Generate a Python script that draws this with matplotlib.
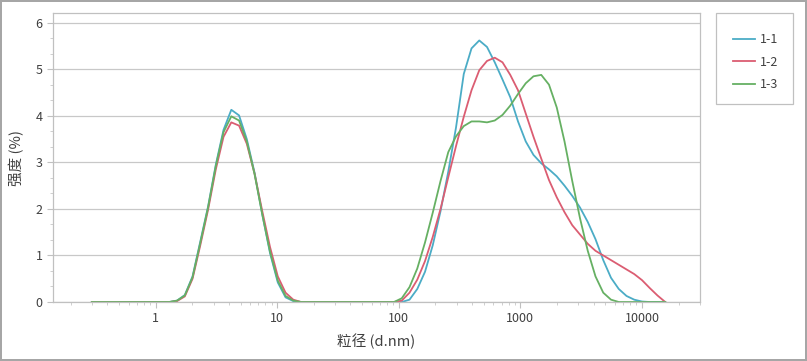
import numpy as np
import matplotlib
matplotlib.use("Agg")
import matplotlib.pyplot as plt
from matplotlib.patches import Rectangle
from matplotlib.ticker import LogLocator, MultipleLocator, FixedLocator, FixedFormatter

plt.rcParams['font.family'] = ['Noto Sans CJK SC', 'DejaVu Sans']

# --- data: size classes (d.nm) and intensity (%) ---
sizes = [0.2982, 0.3455, 0.4, 0.4632, 0.5365, 0.6213, 0.7195, 0.8332, 0.9649, 1.117,
         1.294, 1.499, 1.736, 2.01, 2.328, 2.696, 3.122, 3.615, 4.187, 4.849,
         5.615, 6.503, 7.531, 8.721, 10.1, 11.7, 13.54, 15.69, 18.17, 21.04,
         24.36, 28.21, 32.67, 37.84, 43.82, 50.75, 58.77, 68.06, 78.82, 91.28,
         105.7, 122.4, 141.8, 164.2, 190.1, 220.2, 255.0, 295.3, 342.0, 396.1,
         458.7, 531.2, 615.1, 712.4, 825.0, 955.4, 1106, 1281, 1484, 1718,
         1990, 2305, 2669, 3091, 3580, 4145, 4801, 5560, 6439, 7456,
         8635, 10000, 11580, 13410, 15530]

int_11 = [0, 0, 0, 0, 0, 0, 0, 0, 0, 0,
          0, 0.03, 0.15, 0.55, 1.30, 2.05, 2.95, 3.70, 4.13, 4.01,
          3.50, 2.78, 1.88, 1.05, 0.42, 0.10, 0.02, 0, 0, 0,
          0, 0, 0, 0, 0, 0, 0, 0, 0, 0,
          0, 0.05, 0.28, 0.65, 1.22, 1.95, 2.80, 3.75, 4.90, 5.45,
          5.62, 5.48, 5.15, 4.78, 4.40, 3.88, 3.45, 3.16, 2.98, 2.85,
          2.70, 2.50, 2.28, 2.03, 1.72, 1.35, 0.90, 0.52, 0.28, 0.13,
          0.05, 0.01, 0, 0, 0]

int_12 = [0, 0, 0, 0, 0, 0, 0, 0, 0, 0,
          0, 0.02, 0.12, 0.50, 1.22, 1.98, 2.85, 3.55, 3.86, 3.79,
          3.40, 2.76, 1.95, 1.18, 0.55, 0.20, 0.05, 0, 0, 0,
          0, 0, 0, 0, 0, 0, 0, 0, 0, 0,
          0.03, 0.20, 0.48, 0.88, 1.40, 2.00, 2.68, 3.35, 3.98, 4.55,
          4.98, 5.18, 5.25, 5.15, 4.88, 4.55, 4.05, 3.55, 3.08, 2.62,
          2.25, 1.93, 1.65, 1.45, 1.25, 1.10, 1.00, 0.90, 0.80, 0.70,
          0.60, 0.47, 0.30, 0.14, 0]

int_13 = [0, 0, 0, 0, 0, 0, 0, 0, 0, 0,
          0, 0.03, 0.14, 0.53, 1.27, 2.03, 2.92, 3.65, 3.99, 3.90,
          3.45, 2.75, 1.88, 1.08, 0.46, 0.13, 0.03, 0, 0, 0,
          0, 0, 0, 0, 0, 0, 0, 0, 0, 0,
          0.08, 0.32, 0.72, 1.28, 1.92, 2.60, 3.22, 3.56, 3.78, 3.88,
          3.88, 3.86, 3.90, 4.02, 4.22, 4.47, 4.70, 4.85, 4.88, 4.67,
          4.18, 3.45, 2.60, 1.80, 1.10, 0.55, 0.20, 0.05, 0, 0,
          0, 0, 0, 0, 0]

labels = ["1-1", "1-2", "1-3"]
colors = ["#4BACC6", "#DB5D72", "#66B063"]
xticks = [1, 10, 100, 1000, 10000]
xticklabels = ["1", "10", "100", "1000", "10000"]

# --- figure ---
W, H = 807, 361
fig = plt.figure(figsize=(W / 100, H / 100), dpi=100)
fig.patch.set_edgecolor("#a6a6a6")
fig.patch.set_linewidth(1.5)

ax = fig.add_axes([53 / W, 1 - 302 / H, (700 - 53) / W, (302 - 13) / H])

for y, lab, c in zip([int_11, int_12, int_13], labels, colors):
    ax.plot(sizes, y, color=c, lw=1.3, label=lab)

ax.set_xscale("log")
ax.set_xlim(0.143, 30000)
ax.set_ylim(0, 6.21)

ax.xaxis.set_major_locator(FixedLocator(xticks))
ax.xaxis.set_major_formatter(FixedFormatter(xticklabels))
ax.xaxis.set_minor_locator(LogLocator(base=10, subs=np.arange(2, 10)))
ax.xaxis.set_minor_formatter(plt.NullFormatter())
ax.yaxis.set_major_locator(MultipleLocator(1))
ax.yaxis.set_minor_locator(MultipleLocator(1 / 3))

ax.grid(axis="y", which="major", color="#c8c8c8", lw=0.9)
ax.set_axisbelow(True)
for s in ax.spines.values():
    s.set_color("#c0c0c0")
    s.set_linewidth(0.9)

ax.tick_params(axis="both", which="major", direction="out", colors="#c0c0c0",
               labelcolor="#404040", labelsize=9, length=4, width=0.8)
ax.tick_params(axis="both", which="minor", direction="out", colors="#c8c8c8",
               length=2.5, width=0.6)

ax.set_xlabel("粒径 (d.nm)", fontsize=10.5, color="#404040", labelpad=6)
ax.set_ylabel("强度 (%)", fontsize=10.5, color="#404040", labelpad=8)

# legend box
fig.patches.append(Rectangle((716 / W, 1 - 104 / H), 77 / W, 91 / H,
                             transform=fig.transFigure, fill=False,
                             edgecolor="#c0c0c0", lw=0.9))
fig.legend(loc="upper left", bbox_to_anchor=(722 / W, 1 - 22 / H), frameon=False,
           fontsize=9, handlelength=1.75, handletextpad=0.4, labelspacing=0.75,
           labelcolor="#404040")

fig.savefig("out.png", dpi=100)
